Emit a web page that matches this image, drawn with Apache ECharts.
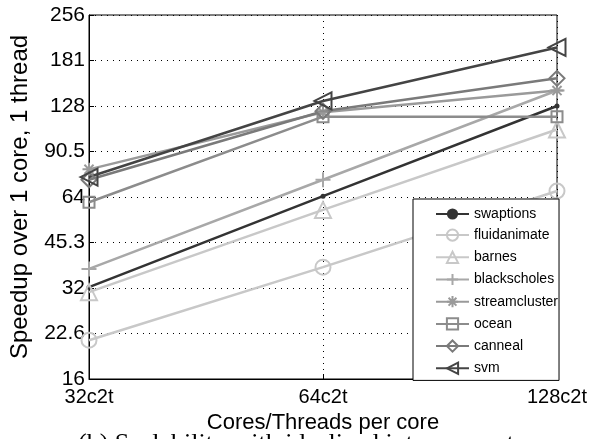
<!DOCTYPE html>
<html><head><meta charset="utf-8">
<script src="https://cdn.jsdelivr.net/npm/echarts@6/dist/echarts.min.js"></script>
<style>html,body{margin:0;padding:0;background:#fff;}#c{width:592px;height:439px;}</style>
</head><body><div id="c"></div>
<script>
const categories = ['32c2t', '64c2t', '128c2t'];
const yTickLabels = ['16', '22.6', '32', '45.3', '64', '90.5', '128', '181', '256'];
const swaptions = [32.2, 64.4, 128];
const fluidanimate = [21.5, 37.5, 67];
const barnes = [31, 58, 107];
const blackscholes = [37, 73, 144];
const streamcluster = [79, 122, 144];
const ocean = [61.5, 118, 118];
const canneal = [73, 123, 158];
const svm = [74.5, 133, 200];

const PLUS = 'path://M5,0L5,10M0,5L10,5';
const STAR = 'path://M5,0L5,10M0,5L10,5M1.5,1.5L8.5,8.5M8.5,1.5L1.5,8.5';

function mk(name, data, color, symbol, size, extra) {
  const hollow = symbol !== 'circle-filled';
  return Object.assign({
    name: name, type: 'line', data: data,
    symbol: hollow ? symbol : 'circle',
    symbolSize: size,
    showAllSymbol: true,
    lineStyle: { color: color, width: 2.5 },
    itemStyle: hollow ? { color: 'none', borderColor: color, borderWidth: 2 } : { color: color, borderColor: color, borderWidth: 0 },
    emphasis: { disabled: true },
    animation: false
  }, extra || {});
}

const chart = echarts.init(document.getElementById('c'), null, { renderer: 'canvas' });
chart.setOption({
  animation: false,
  backgroundColor: '#fff',
  textStyle: { fontFamily: 'Liberation Sans, Arial, sans-serif' },
  grid: { left: 89, right: 35, top: 15, bottom: 59, show: true, borderColor: '#000', borderWidth: 1, backgroundColor: 'transparent' },
  xAxis: {
    type: 'category', data: categories, boundaryGap: false,
    axisLine: { lineStyle: { color: '#000', width: 1 } },
    axisTick: { show: true, inside: true, length: 5, lineStyle: { color: '#000' } },
    axisLabel: { color: '#000', fontSize: 20, margin: 8, fontFamily: 'Liberation Sans' },
    splitLine: { show: true, lineStyle: { color: '#000', type: [1, 5], width: 1 } },
    name: 'Cores/Threads per core', nameLocation: 'middle', nameGap: 33,
    nameTextStyle: { color: '#000', fontSize: 22, fontFamily: 'Liberation Sans' }
  },
  yAxis: {
    type: 'log', logBase: Math.SQRT2, min: 16, max: 256, splitNumber: 8,
    axisLine: { show: true, lineStyle: { color: '#000', width: 1 } },
    axisTick: { show: true, inside: true, length: 5, lineStyle: { color: '#000' } },
    axisLabel: {
      color: '#000', fontSize: 21, margin: 4, fontFamily: 'Liberation Sans',
      formatter: function (v) {
        const i = Math.round(2 * Math.log2(v / 16));
        return yTickLabels[i] !== undefined ? yTickLabels[i] : '';
      }
    },
    splitLine: { show: true, lineStyle: { color: '#000', type: [1, 5], width: 1 } },
    name: 'Speedup over 1 core, 1 thread', nameLocation: 'middle', nameGap: 57,
    nameTextStyle: { color: '#000', fontSize: 24, fontFamily: 'Liberation Sans' }
  },
  legend: {
    orient: 'vertical', left: 413, top: 199,
    backgroundColor: '#fff', borderColor: '#000', borderWidth: 1,
    padding: [8, 1, 4, 22], itemGap: 6, itemWidth: 33, itemHeight: 14,
    textStyle: { color: '#000', fontSize: 14, fontFamily: 'Liberation Sans' },
    data: ['swaptions', 'fluidanimate', 'barnes', 'blackscholes', 'streamcluster', 'ocean', 'canneal', 'svm']
  },
  graphic: [{
    type: 'text', left: 78, top: 431,
    style: { text: '(b) Scalability with idealized interconnect', font: '26px "Liberation Serif", serif', fill: '#000' }
  }],
  series: [
    mk('swaptions', swaptions, '#333333', 'circle-filled', 5),
    mk('fluidanimate', fluidanimate, '#c8c8c8', 'circle', 15),
    mk('barnes', barnes, '#c8c8c8', 'triangle', 16),
    mk('blackscholes', blackscholes, '#a8a8a8', PLUS, 15),
    mk('streamcluster', streamcluster, '#9a9a9a', STAR, 13),
    mk('ocean', ocean, '#8c8c8c', 'rect', 11),
    mk('canneal', canneal, '#7a7a7a', 'diamond', 15),
    mk('svm', svm, '#444444', 'triangle', 17, { symbolRotate: 90 })
  ]
});
</script>
</body></html>
